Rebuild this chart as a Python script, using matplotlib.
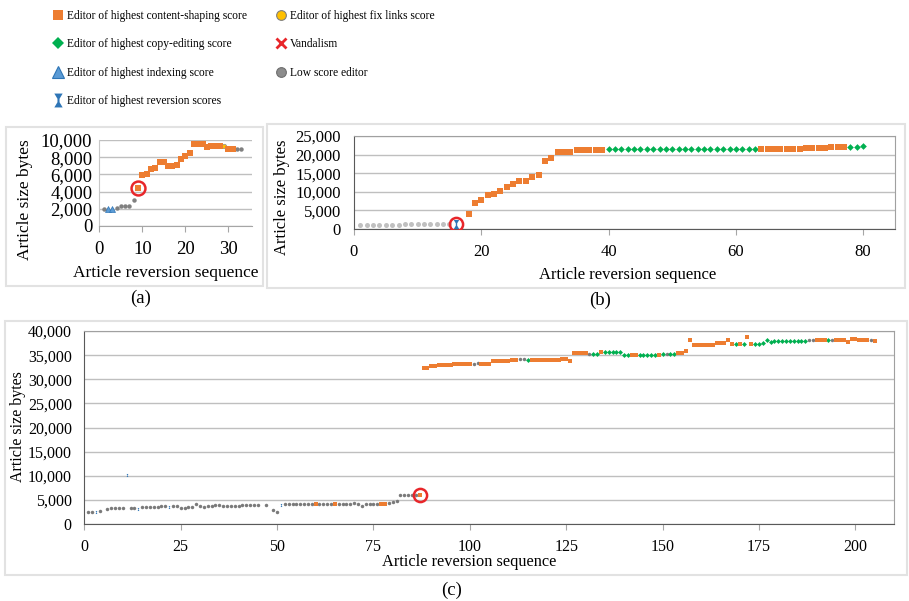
import numpy as np
import matplotlib
matplotlib.use("Agg")
import matplotlib.pyplot as plt
from matplotlib.lines import Line2D
from matplotlib.patches import Rectangle
from matplotlib.path import Path
from matplotlib.ticker import FuncFormatter, MultipleLocator

plt.rcParams["font.family"] = ["Liberation Serif", "DejaVu Serif"]

# editor codes per revision:
# g low score, o content-shaping, d copy-editing, t indexing,
# r reversion, y fix links, - no revision drawn
sizes_a = [2000, 2000, 2000, 2100, 2300, 2300, 2300, 3000, 4400, 5900,
           6050, 6650, 6800, 7500, 7500, 6950, 6950, 7150, 7800, 8150,
           8500, 9500, 9500, 9500, 9200, 9350, 9350, 9350, 9300, 8900,
           8900, 8900, 8900]
editors_a = "gttgggggoo" "oooooooooo" "ooooooooyo" "ogg"
vandal_a = [9]

sizes_b = [1000, 1000, 1100, 1100, 1100, 1100, 1100, 1250, 1250, 1250,
           1250, 1250, 1250, 1250, 1250, 1400, None, 4000, 7000, 7700,
           9050, 9300, 10300, 11400, 12000, 12900, 12900, 13900, 14500, 18300,
           19100, 20600, 20600, 20600, 21150, 21150, 21200, 21200, 21300, 21400,
           21400, 21400, 21400, 21400, 21400, 21400, 21400, 21400, 21400, 21400,
           21400, 21400, 21400, 21400, 21400, 21400, 21400, 21400, 21400, 21400,
           21400, 21400, 21400, 21550, 21550, 21550, 21550, 21550, 21550, 21550,
           21700, 21700, 21750, 21750, 22100, 22100, 22100, 22150, 22150, 22300]
editors_b = ("gggggggggg" "gggggr-ooo" "oooooooooo" "oooooooood"
             "dddddddddd" "dddddddddd" "dddooooooo" "oooooooddd")
vandal_b = [16]

sizes_c = [2500, 2500, 2450, 2650, None, 3200, 3450, 3450, 3450, 3450,
           10300, 3450, 3450, 3200, 3600, 3600, 3650, 3650, 3650, 3700,
           3750, 3500, 3700, 3700, 3350, 3400, 3650, 3650, 4100, 3700,
           3650, 3700, 3750, 4000, 3950, 3800, 3750, 3750, 3750, 3750,
           4000, 4000, 4000, 4000, 4000, None, 3900, None, 3000, 2500,
           3900, 4100, 4100, 4100, 4100, 4100, 4150, 4300, 4300, 4300,
           4200, 4100, 4100, 4100, 4100, 4150, 4300, 4300, 4300, 4450,
           4250, 3800, 4300, 4300, 4300, 4300, 4300, 4300, 4450, 4600,
           4900, 6100, 6100, 6100, 6100, 6100, 6000, 32300, 32300, 32850,
           32850, 33050, 33050, 33050, 33050, 33100, 33250, 33250, 33250, 33250,
           33200, 33450, 33200, 33200, 33200, 33800, 33800, 33800, 33800, 33800,
           34100, 34100, 34150, 34150, 34000, 34100, 34100, 34100, 34100, 34100,
           34100, 34100, 34100, 34300, 34300, 33800, 35400, 35400, 35400, 35400,
           35300, 35300, 35300, 35600, 35600, 35600, 35600, 35600, 35600, 35100,
           35100, 35100, 35100, 35100, 35100, 35100, 35100, 35100, 35100, 35250,
           35250, 35250, 35250, 35350, 35350, 35800, 38200, 37150, 37150, 37150,
           37150, 37150, 37150, 37450, 37450, 37450, 38050, 37400, 37400, 37400,
           37400, 38800, 37400, 37400, 37400, 37500, 38050, 37750, 38000, 38000,
           38000, 38000, 38000, 38000, 38000, 38000, 38000, 38050, 38050, 38050,
           38050, 38050, 38050, 38050, 38050, 38050, 38050, 37800, 38250, 38250,
           38050, 38050, 38050, 38050, 38000]
editors_c = ("ggrg-ggggg" "rggrgggggg" "grgggggggg" "gggggggggg"
             "ggggg-g-gg" "rggggggggo" "ggggoggggg" "ggggggoogg"
             "ggggggoooo" "oooooooooo" "ggoooooooo" "ooggdooooo"
             "oooooooooo" "gddodddddd" "doodddddod" "gddooooooo"
             "oooooooodo" "dooddddddd" "dddddddggo" "oodgoooooo"
             "ooogo")
vandal_c = [87]

legend_col1 = ["Editor of highest content-shaping score",
               "Editor of highest copy-editing score",
               "Editor of highest indexing score",
               "Editor of highest reversion scores"]
legend_col2 = ["Editor of highest fix links score",
               "Vandalism",
               "Low score editor"]

ORANGE = "#ED7D31"
GREEN = "#00B050"
BLUE = "#2E75B6"
LIGHT_BLUE = "#5B9BD5"
GOLD = "#FFC000"
RED = "#E8262A"

# hourglass marker for the reversion editors
REVERT = Path([(-0.6, 1), (0.6, 1), (0.15, 0.25), (0.15, -0.25), (0.6, -1),
               (-0.6, -1), (-0.15, -0.25), (-0.15, 0.25), (-0.6, 1)],
              [Path.MOVETO] + [Path.LINETO] * 7 + [Path.CLOSEPOLY])

W, H = 909, 601


def box(x0, y0, x1, y1):
    return [x0 / W, 1 - y1 / H, (x1 - x0) / W, (y1 - y0) / H]


def styles(gray, ms):
    return {
        "g": dict(marker="o", color=gray, ms=ms["g"], mew=0),
        "y": dict(marker="o", color=GOLD, ms=ms["g"], mec="#8c8c8c", mew=0.5),
        "d": dict(marker="D", color=GREEN, ms=ms["d"], mew=0),
        "t": dict(marker="^", color=LIGHT_BLUE, ms=ms["t"], mec=BLUE, mew=0.5),
        "o": dict(marker="s", color=ORANGE, ms=ms["o"], mew=0),
        "r": dict(marker=REVERT, color=BLUE, ms=ms["r"], mew=0),
    }


def draw_panel(ax, sizes, editors, vandal, gray, ms, ring):
    x = np.arange(1, len(sizes) + 1)
    y = np.array([np.nan if v is None else v for v in sizes], dtype=float)
    codes = np.array(list(editors))
    for code, st in styles(gray, ms).items():
        m = codes == code
        if m.any():
            ax.plot(x[m], y[m], linestyle="none", zorder=3, **st)
    vx = np.array(vandal)
    ax.plot(vx, y[vx - 1], linestyle="none", marker="o", mfc="none",
            mec=RED, ms=ring, mew=1.8, zorder=4)


def style_axes(ax, xmax, ymax, ystep, xstep, tsize, ypad, xpad, box_frame):
    ax.set_xlim(0, xmax)
    ax.set_ylim(0, ymax)
    ax.yaxis.set_major_locator(MultipleLocator(ystep))
    ax.xaxis.set_major_locator(MultipleLocator(xstep))
    ax.yaxis.set_major_formatter(FuncFormatter(lambda v, p: f"{int(v):,}"))
    ax.yaxis.grid(True, color="#bfbfbf", lw=1.0)
    ax.set_axisbelow(True)
    ax.tick_params(axis="y", length=0, pad=ypad, labelsize=tsize)
    ax.tick_params(axis="x", length=4, color="#a6a6a6", pad=xpad,
                   labelsize=tsize)
    if box_frame:
        for s in ["top", "right"]:
            ax.spines[s].set_color("#a0a0a0")
        for s in ["left", "bottom"]:
            ax.spines[s].set_color("#595959")
    else:
        ax.spines["top"].set_visible(False)
        ax.spines["right"].set_visible(False)
        ax.spines["left"].set_color("#c8c8c8")
        ax.spines["bottom"].set_color("#a6a6a6")


fig = plt.figure(figsize=(9.09, 6.01), dpi=100)

# light frames around the three panels
for x0, y0, x1, y1 in [(6, 127, 263, 286), (267, 124, 905, 288),
                       (5, 321, 907, 575)]:
    fig.add_artist(Rectangle((x0 / W, 1 - y1 / H), (x1 - x0) / W,
                             (y1 - y0) / H, transform=fig.transFigure,
                             fill=False, ec="#e2e2e2", lw=1.5))

ax_a = fig.add_axes(box(99.3, 140, 252, 226))
ax_b = fig.add_axes(box(354, 136, 895, 229))
ax_c = fig.add_axes(box(84.3, 331, 894, 524.3))

draw_panel(ax_a, sizes_a, editors_a, vandal_a, "#808080",
           dict(g=3.2, d=3, t=4.2, o=3.8, r=5), ring=10)
draw_panel(ax_b, sizes_b, editors_b, vandal_b, "#c0c0c0",
           dict(g=3.6, d=3.4, t=4, o=4.0, r=6.5), ring=9.5)
draw_panel(ax_c, sizes_c, editors_c, vandal_c, "#7a7a7a",
           dict(g=2.5, d=2.5, t=2.5, o=3.4, r=2.2), ring=9.5)

style_axes(ax_a, 35.5, 10000, 2000, 10, 13.5, 5, 7, False)
style_axes(ax_b, 85, 25000, 5000, 20, 12, 9.5, 7, True)
style_axes(ax_c, 210, 40000, 5000, 25, 11.5, 9, 6.8, True)

# axis titles and panel captions
fig.text(25 / W, 1 - 200 / H, "Article size bytes", rotation=90,
         ha="center", va="center", fontsize=12.5)
fig.text(166 / W, 1 - 273 / H, "Article reversion sequence",
         ha="center", va="center", fontsize=12.5)
fig.text(282 / W, 1 - 197 / H, "Article size bytes", rotation=90,
         ha="center", va="center", fontsize=12)
fig.text(628 / W, 1 - 275 / H, "Article reversion sequence",
         ha="center", va="center", fontsize=12)
fig.text(18 / W, 1 - 427 / H, "Article size bytes", rotation=90,
         ha="center", va="center", fontsize=11.5)
fig.text(469 / W, 1 - 562 / H, "Article reversion sequence",
         ha="center", va="center", fontsize=11.8)
fig.text(141 / W, 1 - 298 / H, "(a)", ha="center", va="center", fontsize=13.5)
fig.text(600 / W, 1 - 300 / H, "(b)", ha="center", va="center", fontsize=13.5)
fig.text(452 / W, 1 - 590 / H, "(c)", ha="center", va="center", fontsize=13.5)

# legend, two columns
h1 = [Line2D([], [], ls="none", marker="s", color=ORANGE, ms=6.5, mew=0),
      Line2D([], [], ls="none", marker="D", color=GREEN, ms=6, mew=0),
      Line2D([], [], ls="none", marker="^", color=LIGHT_BLUE, mec=BLUE,
             ms=8, mew=0.8),
      Line2D([], [], ls="none", marker=REVERT, color=BLUE, ms=10, mew=0)]
h2 = [Line2D([], [], ls="none", marker="o", color=GOLD, mec="#7f7f7f",
             ms=7, mew=0.8),
      Line2D([], [], ls="none", marker="x", color=RED, ms=6.5, mew=2),
      Line2D([], [], ls="none", marker="o", color="#8c8c8c", mec="#6e6e6e",
             ms=7, mew=0.8)]
common = dict(loc="upper left", frameon=False, fontsize=8.3, borderpad=0,
              borderaxespad=0, handlelength=0.8, handletextpad=0.4,
              labelspacing=1.42)
fig.legend(h1, legend_col1, bbox_to_anchor=(53 / W, 1 - 10 / H), **common)
fig.legend(h2, legend_col2, bbox_to_anchor=(276 / W, 1 - 10 / H), **common)

fig.savefig("out.png", dpi=100, facecolor="white")
